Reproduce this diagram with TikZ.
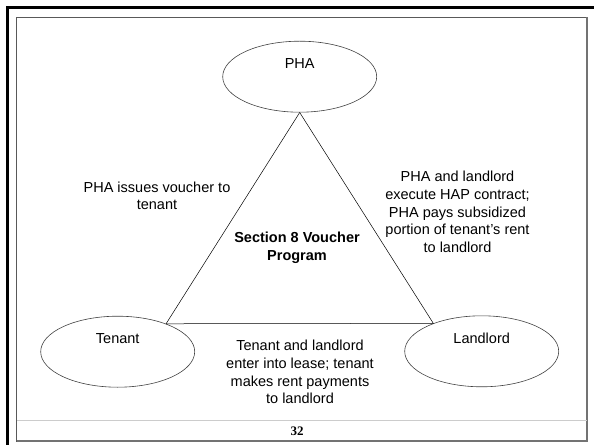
\documentclass[tikz,border=0pt]{standalone}
\usepackage{fontspec}
\setmainfont{Liberation Sans}
\newfontfamily\numfont{Liberation Serif}
\usetikzlibrary{shapes.geometric}
\begin{document}
\begin{tikzpicture}[x=1bp,y=-1bp,
  txt/.style={font=\fontsize{14.5bp}{17.8bp}\selectfont},
  party/.style={ellipse, draw=black!75, line width=0.6bp, minimum width=154bp, minimum height=71bp, inner sep=0pt},
  note/.style={txt, align=center, inner sep=0pt},
  link/.style={draw=black, line width=0.5bp}]
\useasboundingbox (0,0) rectangle (594,445);
% frame
\draw[line width=3bp, line join=miter] (7.5,445) -- (7.5,8) -- (594,8);
\draw[draw=black!65, line width=1bp] (16.5,17.5) rectangle (587,441);
\draw[draw=black!55, line width=1.6bp] (16.5,441) -- (587,441) -- (587,17.5);
\draw[draw=black!20, line width=0.8bp] (17,420) -- (586.5,420);
% parties
\node[party, label={[txt, yshift=13.5bp]center:PHA}] (pha) at (299.7,76.7) {};
\node[party, label={[txt, yshift=12.7bp]center:Tenant}] (ten) at (117.7,351.7) {};
\node[party, label={[txt, yshift=12.5bp]center:Landlord}] (land) at (481.7,351.3) {};
% triangle
\draw[link] (pha.south) -- (ten.30);
\draw[link] (pha.south) -- (land.150);
\draw[link] (ten.30) -- (land.150);
% notes
\node[note] (n1) at (157,195.8) {PHA issues voucher to\\tenant};
\node[note] (n2) at (457.5,212) {PHA and landlord\\execute HAP contract;\\PHA pays subsidized\\portion of tenant's rent\\to landlord};
\node[note, font=\fontsize{14.5bp}{17.8bp}\selectfont\bfseries] (n3) at (297,247.8) {Section 8 Voucher\\Program};
\node[note] (n4) at (300,372) {Tenant and landlord\\enter into lease; tenant\\makes rent payments\\to landlord};
\node[font=\numfont\bfseries\fontsize{13bp}{15bp}\selectfont, inner sep=0pt] (pg) at (297,431) {32};
\end{tikzpicture}
\end{document}
